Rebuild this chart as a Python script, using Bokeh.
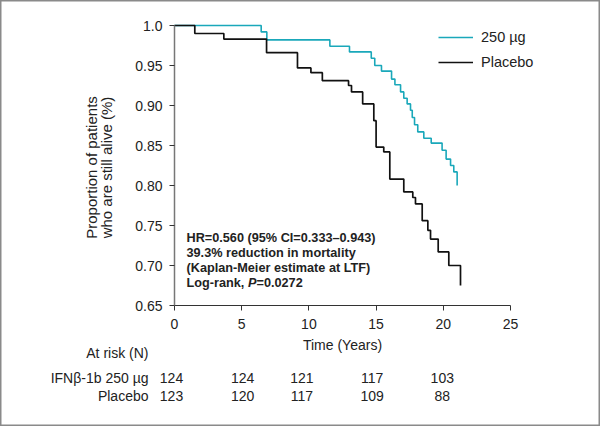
from math import pi
from bokeh.plotting import figure
from bokeh.models import (Range1d, FixedTicker, CustomJSTickFormatter, Label,
                          Legend, LegendItem, LinearAxis)
from bokeh.embed import file_html
from bokeh.resources import INLINE

# ---------------- data ----------------
ifn_t = [0, 6.45, 6.87, 11.56, 13.02, 14.64, 14.90, 15.40, 16.15, 16.40, 16.82,
         17.06, 17.31, 17.56, 17.69, 17.86, 18.10, 18.55, 19.10, 19.91, 20.21,
         20.54, 20.78, 21.03]
ifn_s = [1.0, 0.992, 0.982, 0.974, 0.967, 0.959, 0.950, 0.943, 0.933, 0.926, 0.917,
         0.909, 0.902, 0.894, 0.885, 0.876, 0.867, 0.859, 0.853, 0.844, 0.833,
         0.825, 0.817, 0.800]

pla_t = [0, 1.51, 3.67, 6.85, 9.15, 10.15, 11.0, 12.95, 13.17, 14.0, 14.83, 15.0,
         15.57, 16.02, 17.06, 17.73, 17.93, 18.43, 18.85, 19.05, 19.62, 20.41, 21.28]
pla_s = [1.0, 0.990, 0.983, 0.966, 0.947, 0.941, 0.931, 0.925, 0.917, 0.902, 0.881,
         0.848, 0.842, 0.808, 0.792, 0.785, 0.777, 0.756, 0.744, 0.733, 0.717,
         0.700, 0.675]

series_names = ["250 µg", "Placebo"]
x_ticks = [0, 5, 10, 15, 20, 25]
y_ticks = [0.65, 0.70, 0.75, 0.80, 0.85, 0.90, 0.95, 1.0]

risk_times = [0, 5, 10, 15, 20]
risk_ifn = [124, 124, 121, 117, 103]
risk_pla = [123, 120, 117, 109, 88]
risk_row_names = ["IFNβ-1b 250 µg", "Placebo"]

annot_lines = ["HR=0.560 (95% CI=0.333–0.943)",
               "39.3% reduction in mortality",
               "(Kaplan-Meier estimate at LTF)"]

TEAL = "#1aa8ba"
FONT = "Liberation Sans"
TXT = "#222222"
FS = "14px"

# ---------------- figure ----------------
# The frame spans the whole canvas; the axes sit at fixed data locations.
W, H = 600, 426
X0PX, PXU = 174.0, 13.44          # pixel of t=0, pixels per year
Y1PX, PYU = 25.0, 800.0           # pixel of S=1.0, pixels per unit S
p = figure(width=W, height=H, output_backend="svg", toolbar_location=None,
           x_range=Range1d(-X0PX / PXU, (W - X0PX) / PXU),
           y_range=Range1d(1 - (H - Y1PX) / PYU, 1 + Y1PX / PYU),
           x_axis_location=None, y_axis_location=None, min_border=0)
p.outline_line_color = "#8a8a8a"
p.outline_line_width = 2
p.grid.visible = False
p.background_fill_color = "white"
p.border_fill_color = "white"

xax = LinearAxis(fixed_location=0.65, bounds=(0, 25))
yax = LinearAxis(fixed_location=0, bounds=(0.65, 1.0))
p.add_layout(xax, "below")
p.add_layout(yax, "left")

for ax in (xax, yax):
    ax.major_tick_out = 5
    ax.major_tick_in = 0
    ax.minor_tick_out = 0
    ax.minor_tick_in = 0
    ax.major_label_text_font = FONT
    ax.major_label_text_font_size = FS
    ax.major_label_text_color = TXT

xax.ticker = FixedTicker(ticks=x_ticks)
xax.axis_line_color = "#333333"
xax.major_tick_line_color = "#333333"
xax.major_label_standoff = 8

yax.ticker = FixedTicker(ticks=y_ticks)
yax.formatter = CustomJSTickFormatter(
    code="return tick > 0.999 ? '1.0' : tick.toFixed(2);")
yax.axis_line_color = "#777777"
yax.axis_line_width = 1.5
yax.major_tick_line_color = "#333333"
yax.major_label_standoff = 7


def sy(py):
    return 1 - (py - Y1PX) / PYU


def tx(px):
    return (px - X0PX) / PXU


# curves
r_ifn = p.step(ifn_t, ifn_s, mode="after", line_color=TEAL, line_width=1.6)
r_pla = p.step(pla_t, pla_s, mode="after", line_color="#111111", line_width=1.7)

legend = Legend(items=[LegendItem(label=series_names[0], renderers=[r_ifn]),
                       LegendItem(label=series_names[1], renderers=[r_pla])],
                location=(438, 354), orientation="vertical",
                glyph_width=35, glyph_height=20, label_height=20,
                label_standoff=8, spacing=5, padding=0, margin=0,
                border_line_alpha=0, background_fill_alpha=0,
                label_text_font=FONT, label_text_font_size="14.5px",
                label_text_color=TXT)
p.add_layout(legend)

# axis titles
p.add_layout(Label(x=12.5, y=sy(344), text="Time (Years)", text_align="center",
                   text_baseline="middle", text_font=FONT, text_font_size=FS,
                   text_color=TXT))
p.add_layout(Label(x=tx(91), y=sy(167), text="Proportion of patients", angle=pi / 2,
                   text_align="center", text_baseline="middle", text_font=FONT,
                   text_font_size="15px", text_color=TXT))
p.add_layout(Label(x=tx(106), y=sy(167), text="who are still alive (%)", angle=pi / 2,
                   text_align="center", text_baseline="middle", text_font=FONT,
                   text_font_size="15px", text_color=TXT))

# annotation block
annot_x = tx(186)
annot_y = [sy(237), sy(252), sy(267), sy(282)]
AFS = "12.7px"
for txt, yy in zip(annot_lines, annot_y):
    p.add_layout(Label(x=annot_x, y=yy, text=txt, text_align="left",
                       text_baseline="middle", text_font=FONT,
                       text_font_size=AFS, text_font_style="bold",
                       text_color=TXT))
log_parts = [("Log-rank, ", "bold", 0), ("P", "bold italic", 61.5), ("=0.0272", "bold", 70)]
for txt, style, off in log_parts:
    p.add_layout(Label(x=annot_x, y=annot_y[3], x_offset=off, text=txt,
                       text_align="left", text_baseline="middle", text_font=FONT,
                       text_font_size=AFS, text_font_style=style,
                       text_color=TXT))

# at-risk table
name_x = tx(148)
p.add_layout(Label(x=name_x, y=sy(352), text="At risk (N)", text_align="right",
                   text_baseline="middle", text_font=FONT, text_font_size=FS,
                   text_color=TXT))
row_y = [sy(377), sy(395)]
col_off = [-3, 1, -7, -4, -1]
for name, yy, vals in zip(risk_row_names, row_y, [risk_ifn, risk_pla]):
    p.add_layout(Label(x=name_x, y=yy, text=name, text_align="right",
                       text_baseline="middle", text_font=FONT,
                       text_font_size=FS, text_color=TXT))
    for t, v, off in zip(risk_times, vals, col_off):
        p.add_layout(Label(x=t, y=yy, x_offset=off, text=str(v), text_align="center",
                           text_baseline="middle", text_font=FONT,
                           text_font_size=FS, text_color=TXT))

open("out.html", "w").write(file_html(p, INLINE))
